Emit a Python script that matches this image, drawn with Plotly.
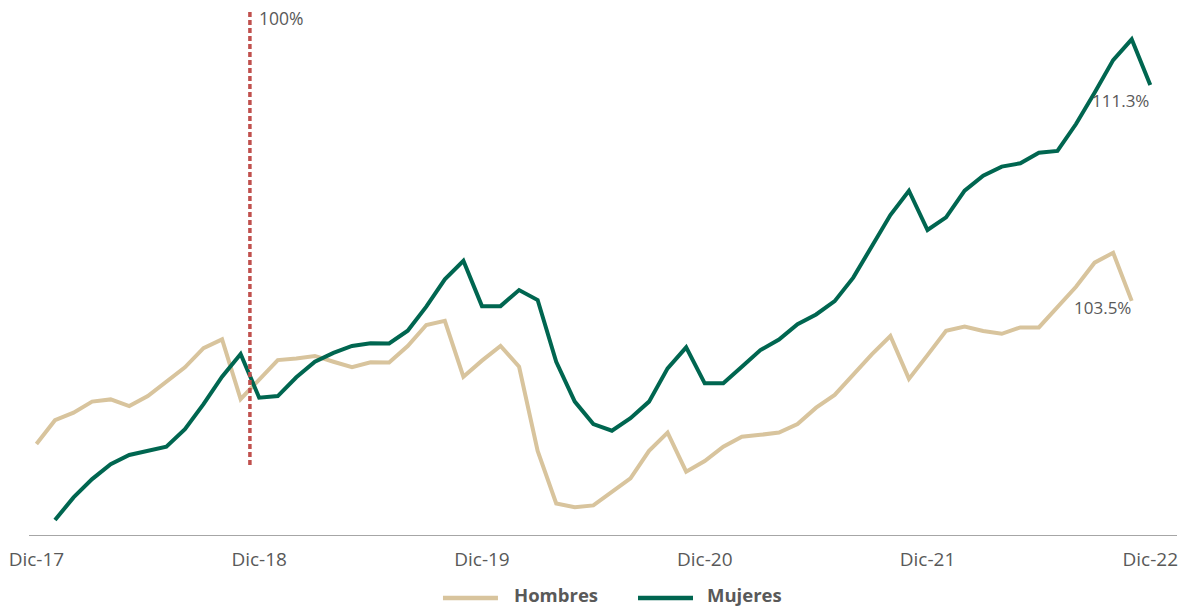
import plotly.graph_objects as go

# ---- data (index relative to the Dic-17 .. Dic-22 monthly axis) ----
x_hombres = list(range(0, 60))
hombres = [98.33, 99.19, 99.46, 99.86, 99.94, 99.70, 100.06, 100.58, 101.10, 101.79,
           102.11, 99.95, 100.68, 101.36, 101.42, 101.51, 101.30, 101.10, 101.28, 101.27,
           101.87, 102.63, 102.78, 100.76, 101.34, 101.87, 101.12, 98.08, 96.18, 96.04,
           96.11, 96.60, 97.09, 98.08, 98.74, 97.33, 97.71, 98.23, 98.59, 98.66,
           98.74, 99.05, 99.64, 100.10, 100.85, 101.57, 102.23, 100.68, 101.54, 102.42,
           102.57, 102.41, 102.31, 102.54, 102.54, 103.27, 104.01, 104.88, 105.24, 103.5]

x_mujeres = list(range(1, 61))
mujeres = [95.58, 96.40, 97.06, 97.60, 97.93, 98.07, 98.23, 98.86, 99.77, 100.76,
           101.58, 100.00, 100.06, 100.74, 101.30, 101.62, 101.87, 101.97, 101.96, 102.42,
           103.29, 104.28, 104.95, 103.31, 103.31, 103.89, 103.53, 101.30, 99.86, 99.05,
           98.81, 99.26, 99.86, 101.06, 101.82, 100.52, 100.52, 101.12, 101.72, 102.10,
           102.66, 103.01, 103.49, 104.34, 105.46, 106.60, 107.48, 106.06, 106.52, 107.48,
           108.02, 108.35, 108.47, 108.85, 108.92, 109.89, 111.02, 112.20, 112.95, 111.3]

tick_vals = [0, 12, 24, 36, 48, 60]
tick_text = ["Dic-17", "Dic-18", "Dic-19", "Dic-20", "Dic-21", "Dic-22"]

ref_x = 11.5
ref_y0, ref_y1 = 97.57, 114.0
ref_label = "100%"
end_label_h = "103.5%"
end_label_m = "111.3%"

C_H = "#D8C49D"
C_M = "#006650"
C_REF = "#C0504D"
C_TXT = "#595959"
FONT = "Open Sans"

fig = go.Figure()
fig.add_trace(go.Scatter(x=x_hombres, y=hombres, mode="lines", name="Hombres",
                         line=dict(color=C_H, width=4), showlegend=False,
                         hoverinfo="skip"))
fig.add_trace(go.Scatter(x=x_mujeres, y=mujeres, mode="lines", name="Mujeres",
                         line=dict(color=C_M, width=4), showlegend=False,
                         hoverinfo="skip"))

# reference dotted line
fig.add_shape(type="line", x0=ref_x, x1=ref_x, y0=ref_y0, y1=ref_y1,
              xref="x", yref="y", line=dict(color=C_REF, width=3.5, dash="5px,3px"))
fig.add_annotation(x=ref_x, y=ref_y1, xref="x", yref="y", text=ref_label,
                   showarrow=False, xanchor="left", yanchor="middle",
                   xshift=7, yshift=-8, font=dict(family=FONT, size=17.5, color=C_TXT))

# end labels
fig.add_annotation(x=x_mujeres[-1], y=mujeres[-1], text=end_label_m, showarrow=False,
                   xanchor="right", yanchor="middle", xshift=1, yshift=-15,
                   font=dict(family=FONT, size=17, color=C_TXT))
fig.add_annotation(x=x_hombres[-1], y=hombres[-1], text=end_label_h, showarrow=False,
                   xanchor="right", yanchor="middle", xshift=1, yshift=-7,
                   font=dict(family=FONT, size=17, color=C_TXT))

# custom legend (paper coords)
leg_y_line = -0.12
leg_y_text = -0.114
for (xa, xb, xt, col, name) in [(0.3606, 0.4085, 0.4216, C_H, "Hombres"),
                                (0.5305, 0.5784, 0.5897, C_M, "Mujeres")]:
    fig.add_shape(type="line", xref="paper", yref="paper", x0=xa, x1=xb,
                  y0=leg_y_line, y1=leg_y_line, line=dict(color=col, width=4.5))
    fig.add_annotation(xref="paper", yref="paper", x=xt, y=leg_y_text,
                       text="<b>%s</b>" % name, showarrow=False,
                       xanchor="left", yanchor="middle", borderpad=0,
                       font=dict(family=FONT, size=18.5, color=C_TXT))

fig.update_layout(
    width=1182, height=608,
    margin=dict(l=29, r=5, t=10, b=73),
    paper_bgcolor="white", plot_bgcolor="white",
    font=dict(family=FONT, color=C_TXT),
    showlegend=False,
)
fig.update_xaxes(range=[-0.4, 61.44], tickvals=tick_vals, ticktext=tick_text,
                 showgrid=False, zeroline=False, showline=True, linecolor="#A6A6A6",
                 linewidth=1.2, ticks="", ticklabelstandoff=7,
                 tickfont=dict(family=FONT, size=19, color=C_TXT))
fig.update_yaxes(range=[95.04, 114.01], showgrid=False, zeroline=False,
                 showticklabels=False, showline=False)

fig.write_html("out.html", config={"displayModeBar": False},
               post_script="document.body.style.margin='0';document.body.style.overflow='hidden';")
